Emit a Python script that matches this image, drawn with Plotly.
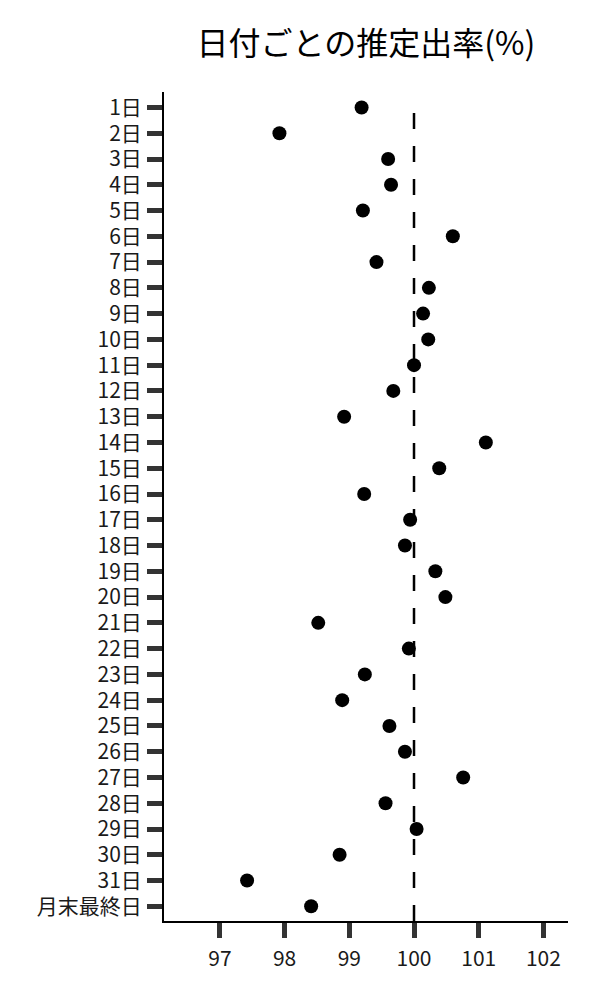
import plotly.graph_objects as go

days = [f"{i}日" for i in range(1, 32)] + ["月末最終日"]
rates = [99.19, 97.92, 99.60, 99.645, 99.21, 100.60, 99.42, 100.23, 100.14, 100.22,
         100.00, 99.68, 98.92, 101.11, 100.39, 99.23, 99.94, 99.86, 100.33, 100.485,
         98.52, 99.92, 99.24, 98.89, 99.62, 99.86, 100.76, 99.56, 100.04, 98.85,
         97.42, 98.41]
x_ticks = [97, 98, 99, 100, 101, 102]
ref_value = 100

FONT = "Noto Sans CJK JP"

fig = go.Figure()
fig.add_trace(go.Scatter(
    x=rates, y=days, mode="markers",
    marker=dict(color="black", size=14, line=dict(width=0)),
    showlegend=False,
))
fig.add_shape(type="line", xref="x", yref="y",
              x0=ref_value, x1=ref_value, y0=31.57, y1=-0.12,
              line=dict(color="black", width=2.5, dash="16px,17px"))

fig.update_layout(
    width=600, height=1000,
    margin=dict(l=156, r=40, t=84, b=87),
    paper_bgcolor="white", plot_bgcolor="white",
    font=dict(family=FONT, color="#1a1a1a", size=21),
    title=dict(text="日付ごとの推定出率(%)", x=0.5, xref="paper", xanchor="center",
               y=0.964, yref="container", yanchor="middle",
               font=dict(family=FONT, size=32, color="black")),
)
fig.update_xaxes(
    range=[96.136, 102.38], tickvals=x_ticks, ticktext=[str(v) for v in x_ticks],
    showgrid=False, zeroline=False,
    showline=True, linecolor="black", linewidth=2,
    ticks="outside", ticklen=15, tickwidth=5, tickcolor="#333",
    ticklabelstandoff=3,
    tickfont=dict(family=FONT, size=21, color="#1a1a1a"),
)
fig.update_yaxes(
    type="category", categoryorder="array", categoryarray=days,
    range=[31.57, -0.6],
    showgrid=False, zeroline=False,
    showline=True, linecolor="black", linewidth=2,
    ticks="outside", ticklen=15, tickwidth=5, tickcolor="#333",
    ticklabelstandoff=1,
    tickfont=dict(family=FONT, size=21, color="#1a1a1a"),
)

fig.write_html("out.html")
